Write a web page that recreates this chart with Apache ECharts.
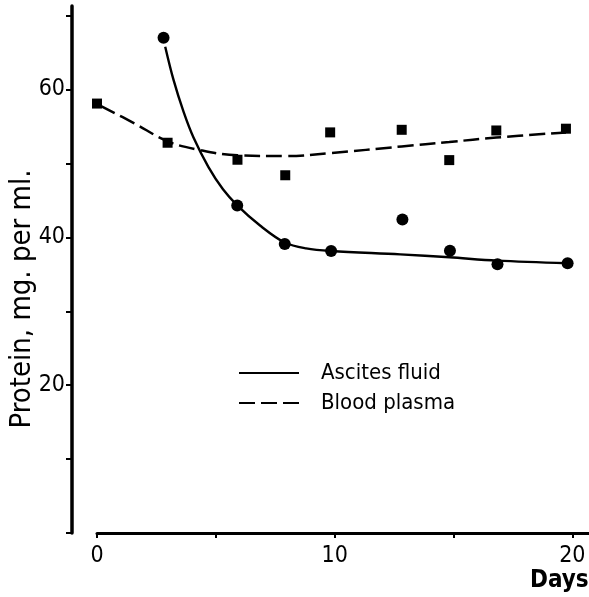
<!DOCTYPE html>
<html>
<head>
<meta charset="utf-8">
<script src="https://cdn.jsdelivr.net/npm/echarts@6/dist/echarts.min.js"></script>
<style>
html,body{margin:0;padding:0;background:#fff;}
#chart{width:589px;height:597px;}
</style>
</head>
<body>
<div id="chart"></div>
<script>
// Measured points
var ascitesDays = [2.8, 5.9, 7.9, 9.85, 12.85, 14.85, 16.85, 19.8];
var ascitesProtein = [67.0, 44.3, 39.1, 38.15, 42.4, 38.2, 36.35, 36.5];
var plasmaDays = [0, 2.97, 5.91, 7.92, 9.81, 12.82, 14.82, 16.8, 19.73];
var plasmaProtein = [58.1, 52.8, 50.5, 48.4, 54.2, 54.55, 50.45, 54.46, 54.7];

// Hand-drawn fitted curves
var ascitesCurveX = [2.87, 3.22, 3.64, 4.06, 4.69, 5.3, 5.91, 6.86, 7.9, 8.8, 9.85, 12.76, 14.83, 16.83, 19.8];
var ascitesCurveY = [65.8, 61.3, 57.0, 53.5, 49.5, 46.5, 44.3, 41.6, 39.3, 38.5, 38.15, 37.7, 37.3, 36.85, 36.5];
var plasmaCurveX = [0.15, 1.53, 2.97, 4.2, 5.91, 7.92, 9.81, 12.82, 14.82, 16.8, 19.73];
var plasmaCurveY = [57.8, 55.5, 53.0, 51.9, 51.1, 51.0, 51.4, 52.3, 52.9, 53.5, 54.2];

var yTicks = [0, 10, 20, 30, 40, 50, 60, 70];
var yLabels = [20, 40, 60];
var xTicks = [0, 5, 10, 15, 20];
var xLabels = [0, 10, 20];

var seriesNames = ['Ascites fluid', 'Blood plasma'];
var xAxisTitle = 'Days';
var yAxisTitle = 'Protein, mg. per ml.';

function zip(a, b) { return a.map(function (v, i) { return [v, b[i]]; }); }

var FONT = '"DejaVu Sans Condensed", "DejaVu Sans", sans-serif';

var chart = echarts.init(document.getElementById('chart'), null, {renderer: 'canvas'});
chart.setOption({
  backgroundColor: '#fff',
  animation: false,
  grid: {left: 97, right: 0, top: 6, bottom: 64, containLabel: false},
  xAxis: {
    type: 'value', min: 0, max: 20.7,
    axisLine: {show: true, onZero: false, lineStyle: {color: '#000', width: 3}},
    axisTick: {show: true, length: 5, lineStyle: {color: '#000', width: 2}, customValues: xTicks},
    axisLabel: {show: true, customValues: xLabels, color: '#000', fontSize: 23, fontFamily: FONT, margin: 12},
    splitLine: {show: false}
  },
  yAxis: {
    type: 'value', min: 0, max: 71.3, offset: 25,
    axisLine: {show: true, onZero: false, lineStyle: {color: '#000', width: 3.5}},
    axisTick: {show: true, length: 6, lineStyle: {color: '#000', width: 2}, customValues: yTicks},
    axisLabel: {show: true, customValues: yLabels, color: '#000', fontSize: 23, fontFamily: FONT, margin: 7},
    splitLine: {show: false}
  },
  legend: {
    orient: 'vertical', left: 238, top: 362, padding: 0,
    itemWidth: 60, itemHeight: 14, itemGap: 8,
    data: seriesNames,
    itemStyle: {opacity: 0},
    textStyle: {color: '#000', fontSize: 22, fontFamily: FONT, lineHeight: 22, padding: [0, 0, 0, 17]}
  },
  graphic: [
    {type: 'text', left: 530, top: 569, style: {text: xAxisTitle, font: 'bold 24px ' + FONT, fill: '#000'}},
    {type: 'text', x: 22, y: 299, rotation: Math.PI / 2, style: {text: yAxisTitle, font: '29px ' + FONT, fill: '#000', align: 'center', verticalAlign: 'middle'}}
  ],
  series: [
    {name: seriesNames[0], type: 'line', data: zip(ascitesCurveX, ascitesCurveY), smooth: 0.35, symbol: 'none',
      lineStyle: {color: '#000', width: 2.4, type: 'solid'}, itemStyle: {color: '#000'}, z: 2},
    {name: seriesNames[1], type: 'line', data: zip(plasmaCurveX, plasmaCurveY), smooth: 0.4, symbol: 'none',
      lineStyle: {color: '#000', width: 2.5, type: [16, 6]}, itemStyle: {color: '#000'}, z: 2},
    {name: 'ascites points', type: 'scatter', data: zip(ascitesDays, ascitesProtein), symbol: 'circle', symbolSize: 12,
      itemStyle: {color: '#000', opacity: 1}, z: 3},
    {name: 'plasma points', type: 'scatter', data: zip(plasmaDays, plasmaProtein), symbol: 'rect', symbolSize: 10,
      itemStyle: {color: '#000', opacity: 1}, z: 3}
  ]
});
</script>
</body>
</html>
